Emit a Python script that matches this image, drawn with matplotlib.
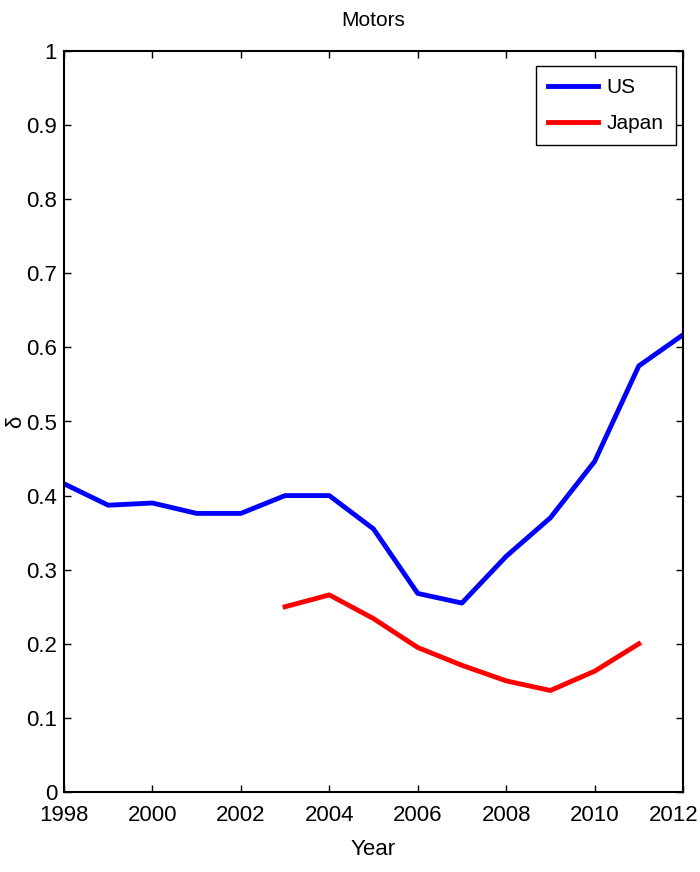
import matplotlib.pyplot as plt
from matplotlib.transforms import ScaledTranslation

years_us = [1998, 1999, 2000, 2001, 2002, 2003, 2004, 2005, 2006, 2007, 2008, 2009, 2010, 2011, 2012]
delta_us = [0.416, 0.387, 0.390, 0.376, 0.376, 0.400, 0.400, 0.355, 0.268, 0.255, 0.318, 0.370, 0.446, 0.575, 0.617]

years_jp = [2003, 2004, 2005, 2006, 2007, 2008, 2009, 2010, 2011]
delta_jp = [0.250, 0.266, 0.234, 0.195, 0.171, 0.150, 0.137, 0.163, 0.200]

plt.rcParams['font.family'] = ['Liberation Sans', 'DejaVu Sans']

fig = plt.figure(figsize=(7, 8.72), dpi=100)
ax = fig.add_axes([64 / 700, 1 - 792 / 872, 619 / 700, 741 / 872])

ax.plot(years_us, delta_us, color='blue', linewidth=3.5, label='US')
ax.plot(years_jp, delta_jp, color='red', linewidth=3.5, label='Japan')

ax.set_xlim(1998, 2012)
ax.set_ylim(0, 1)
ax.set_xticks(range(1998, 2013, 2))
ax.set_yticks([i / 10 for i in range(11)])
ax.set_yticklabels(['0', '0.1', '0.2', '0.3', '0.4', '0.5', '0.6', '0.7', '0.8', '0.9', '1'])
ax.tick_params(direction='in', top=True, right=True, labelsize=16, length=5, width=1)
ax.tick_params(axis='x', pad=9)
ax.tick_params(axis='y', pad=5)
for s in ax.spines.values():
    s.set_linewidth(1.5)

# keep the last year label inside the figure edge
last = ax.get_xticklabels()[-1]
last.set_horizontalalignment('right')
last.set_transform(last.get_transform() + ScaledTranslation(15 / 100, 0, fig.dpi_scale_trans))

ax.set_title('Motors', fontsize=15, pad=18)
ax.set_xlabel('Year', fontsize=16, labelpad=10)
ax.set_ylabel('δ', fontsize=16)
ax.yaxis.set_label_coords(-38 / 619, 0.5)

leg = ax.legend(loc='upper right', bbox_to_anchor=(0.989, 0.98), borderaxespad=0,
                fontsize=15, fancybox=False, edgecolor='black', framealpha=1,
                handlelength=2.4, handletextpad=0.4, labelspacing=0.8,
                borderpad=0.6)
leg.get_frame().set_linewidth(1)

fig.savefig('out.png', dpi=100)
